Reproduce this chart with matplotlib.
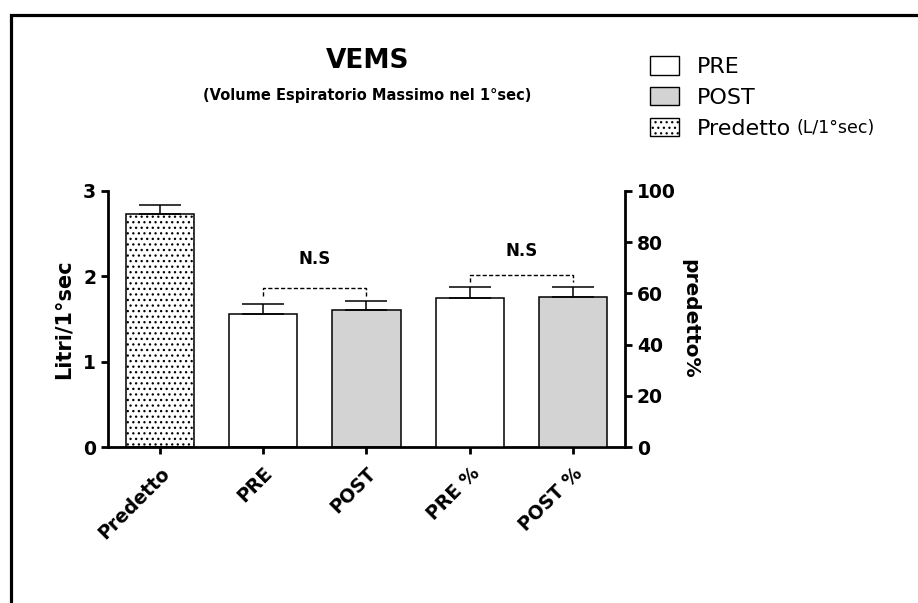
import matplotlib
matplotlib.use("Agg")
import matplotlib.pyplot as plt
from matplotlib.patches import Patch
from matplotlib.lines import Line2D

# Bar categories (left axis: litres, right axis: % of predicted)
categories = ["Predetto", "PRE", "POST", "PRE %", "POST %"]
litri_labels = ["Predetto", "PRE", "POST"]
litri_values = [2.73, 1.56, 1.61]
litri_errors = [0.10, 0.12, 0.10]
perc_labels = ["PRE %", "POST %"]
perc_values = [58.3, 58.7]
perc_errors = [4.2, 3.9]

legend_labels = ["PRE", "POST", "Predetto"]

plt.rcParams['font.family'] = 'DejaVu Sans'
plt.rcParams['hatch.linewidth'] = 0.9

WHITE = "white"
GREY = "#d3d3d3"
fills = {"Predetto": WHITE, "PRE": WHITE, "POST": GREY, "PRE %": WHITE, "POST %": GREY}
hatches = {"Predetto": "..."}

fig = plt.figure(figsize=(9.18, 6.03), dpi=100)
ax = fig.add_axes([0.1176, 0.2587, 0.5632, 0.4246])
ax2 = ax.twinx()

pos = {c: i for i, c in enumerate(categories)}
bar_w = 0.66

def draw_bars(axis, labels, values, errors):
    xs = [pos[c] for c in labels]
    for x, c, v in zip(xs, labels, values):
        axis.bar(x, v, width=bar_w, color=fills[c], edgecolor="black",
                 linewidth=1.1, hatch=hatches.get(c), zorder=2)
    axis.errorbar(xs, values, yerr=[[0] * len(values), errors], fmt="none",
                  ecolor="black", elinewidth=1.1, capsize=15, capthick=1.1, zorder=3)

draw_bars(ax, litri_labels, litri_values, litri_errors)
draw_bars(ax2, perc_labels, perc_values, perc_errors)

# "not significant" brackets
def bracket(axis, a, b, low, high, text_y):
    xa, xb = pos[a], pos[b]
    axis.plot([xa, xa, xb, xb], [low, high, high, low], color="black",
              lw=1.0, dashes=(3, 1.6), zorder=3)
    axis.text((xa + xb) / 2, text_y, "N.S", ha="center", va="center",
              fontsize=12, fontweight="bold")

bracket(ax, "PRE", "POST", 1.77, 1.86, 2.2)
bracket(ax2, "PRE %", "POST %", 64.4, 67.2, 76.6)

ax.set_xlim(-0.5, 4.5)
ax.set_ylim(0, 3)
ax2.set_ylim(0, 100)
ax.set_yticks([0, 1, 2, 3])
ax2.set_yticks([0, 20, 40, 60, 80, 100])
ax.set_xticks(range(len(categories)))
ax.set_xticklabels(categories, rotation=45, ha="right", rotation_mode="anchor",
                   fontsize=13, fontweight="bold")

for a in (ax, ax2):
    for s in a.spines.values():
        s.set_linewidth(2)
    a.spines["top"].set_visible(False)
ax.spines["right"].set_visible(False)
ax2.spines["left"].set_visible(False)
ax2.spines["bottom"].set_visible(False)

ax.tick_params(axis="both", direction="out", length=5, width=2, labelsize=13.5)
ax.tick_params(axis="x", pad=7)
ax2.tick_params(axis="y", direction="out", length=5, width=2, labelsize=13.5)
for lbl in ax.get_yticklabels() + ax2.get_yticklabels():
    lbl.set_fontweight("bold")

ax.set_ylabel("Litri/1°sec", fontsize=15, fontweight="bold", labelpad=7)
ax2.set_ylabel("predetto%", fontsize=14.5, fontweight="bold", rotation=270,
               va="bottom", labelpad=3)

fig.text(0.40, 0.899, "VEMS", ha="center", va="center", fontsize=19, fontweight="bold")
fig.text(0.40, 0.842, "(Volume Espiratorio Massimo nel 1°sec)", ha="center",
         va="center", fontsize=10.5, fontweight="bold")

handles = [Patch(facecolor=WHITE, edgecolor="black", lw=1),
           Patch(facecolor=GREY, edgecolor="black", lw=1),
           Patch(facecolor=WHITE, edgecolor="black", lw=1, hatch="...")]
leg = fig.legend(handles, legend_labels, loc="upper left", bbox_to_anchor=(0.708, 0.907),
                 frameon=False, fontsize=16, handlelength=1.3, handleheight=0.9,
                 handletextpad=0.8, labelspacing=0.45, borderpad=0, borderaxespad=0)

# smaller unit note next to the last legend entry
fig.canvas.draw()
bb = leg.get_texts()[-1].get_window_extent().transformed(fig.transFigure.inverted())
fig.text(bb.x1 + 0.006, bb.y0 + 0.3 * (bb.y1 - bb.y0), "(L/1°sec)", ha="left",
         va="baseline", fontsize=12.5)

# frame lines along top and left edge
fig.add_artist(Line2D([10.5 / 918, 10.5 / 918, 1.0], [0.0, 1 - 14.5 / 603, 1 - 14.5 / 603],
                      color="black", lw=2.3, solid_joinstyle="miter"))

fig.savefig("out.png", dpi=100, facecolor="white")
